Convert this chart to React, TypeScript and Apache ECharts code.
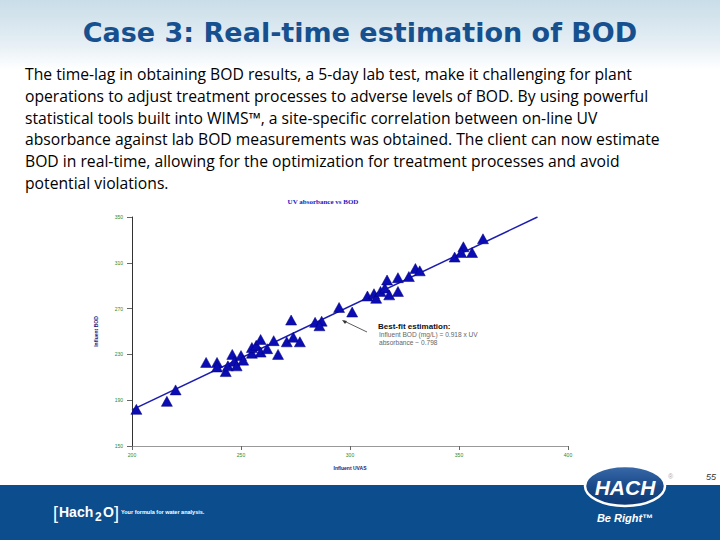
import React, { useEffect, useRef } from "react";
import * as echarts from "echarts";

const uvAbsorbance = [202, 216, 220, 234, 239, 239, 243, 246, 244, 247, 248, 250, 251, 255, 255, 257, 259, 259, 262, 265, 267, 271, 273, 274, 277, 284, 287, 286, 295, 301, 308, 311, 312, 314, 316, 318, 322, 317, 322, 327, 330, 332, 348, 352, 351, 356, 361];
const labBOD = [182, 189, 199, 223, 223, 219, 215, 230, 220, 224, 220, 229, 225, 231, 236, 238, 243, 232, 235, 242, 230, 241, 260, 245, 241, 258, 259, 255, 271, 267, 281, 283, 279, 285, 288, 282, 285, 295, 297, 298, 305, 303, 315, 324, 319, 319, 331];
const fitX = [200, 386];
const fitY = [181.5, 350];

const paragraph = [
  "The time-lag in obtaining BOD results, a 5-day lab test, make it challenging for plant",
  "operations to adjust treatment processes to adverse levels of BOD. By using powerful",
  "statistical tools built into WIMS\u2122, a site-specific correlation between on-line UV",
  "absorbance against lab BOD measurements was obtained. The client can now estimate",
  "BOD in real-time, allowing for the optimization for treatment processes and avoid",
  "potential violations.",
];

export default function App() {
  const ref = useRef<HTMLDivElement>(null);
  useEffect(() => {
    if (!ref.current) return;
    const chart = echarts.init(ref.current, undefined, { renderer: "svg" });
    const points = uvAbsorbance.map((x, i) => [x, labBOD[i]]);
    const fit = fitX.map((x, i) => [x, fitY[i]]);
    const textLines = paragraph.map((t, i) => ({
      type: "text",
      x: 25,
      y: 74 + i * 21.8,
      style: { text: t, font: "15.7px 'Open Sans'", fill: "#000", textVerticalAlign: "middle" },
    }));
    chart.setOption({
      animation: false,
      backgroundColor: "#ffffff",
      grid: { left: 132, right: 152, top: 217, bottom: 94 },
      xAxis: {
        type: "value",
        min: 200,
        max: 400,
        interval: 50,
        name: "Influent UVAS",
        nameLocation: "middle",
        nameGap: 19,
        nameTextStyle: { fontSize: 5, color: "#1a1a7a", fontWeight: "bold" },
        axisLine: { lineStyle: { color: "#999", width: 1 } },
        axisTick: { show: true, length: 4, inside: false, lineStyle: { color: "#666" } },
        axisLabel: { fontSize: 5, color: "#2a8a2a", margin: 6 },
        splitLine: { show: false },
      },
      yAxis: {
        type: "value",
        min: 150,
        max: 350,
        interval: 40,
        name: "Influent BOD",
        nameLocation: "middle",
        nameGap: 34,
        nameRotate: 90,
        nameTextStyle: { fontSize: 5, color: "#1a1a7a", fontWeight: "bold" },
        axisLine: { show: true, lineStyle: { color: "#333", width: 1 } },
        axisTick: { show: true, length: 5, lineStyle: { color: "#666" } },
        axisLabel: { fontSize: 5, color: "#2a8a2a", margin: 9 },
        splitLine: { show: false },
      },
      series: [
        {
          type: "line",
          data: fit,
          symbol: "none",
          lineStyle: { color: "#1c1cb0", width: 1.5 },
          z: 2,
        },
        {
          type: "scatter",
          data: points,
          symbol: "triangle",
          symbolSize: [11, 10],
          itemStyle: { color: "#0c0cb4", borderColor: "#00007a", borderWidth: 0.5, opacity: 1 },
          z: 3,
        },
      ],
      graphic: [
        {
          type: "rect",
          z: -10,
          shape: { x: 0, y: 0, width: 720, height: 70 },
          style: {
            fill: new echarts.graphic.LinearGradient(0, 0, 0, 1, [
              { offset: 0, color: "#c9dde8" },
              { offset: 0.6, color: "#e4eef4" },
              { offset: 1, color: "#ffffff" },
            ]),
          },
        },
        {
          type: "text",
          x: 360,
          y: 32,
          style: {
            text: "Case 3: Real-time estimation of BOD",
            font: "bold 27px 'DejaVu Sans'",
            fill: "#17508e",
            textAlign: "center",
            textVerticalAlign: "middle",
          },
        },
        ...textLines,
        {
          type: "text",
          x: 323,
          y: 202,
          style: {
            text: "UV absorbance vs BOD",
            font: "bold 7px 'Liberation Serif', serif",
            fill: "#2020c0",
            textAlign: "center",
            textVerticalAlign: "middle",
          },
        },
        {
          type: "line",
          shape: { x1: 367, y1: 332, x2: 344, y2: 321 },
          style: { stroke: "#333", lineWidth: 0.8 },
        },
        {
          type: "polygon",
          shape: { points: [[342, 320], [347, 321], [345, 324]] },
          style: { fill: "#333" },
        },
        {
          type: "text",
          x: 378,
          y: 326,
          style: { text: "Best-fit estimation:", font: "bold 8px 'Liberation Sans'", fill: "#111", textVerticalAlign: "middle" },
        },
        {
          type: "text",
          x: 379,
          y: 334,
          style: { text: "Influent BOD (mg/L) = 0.918 x UV", font: "6.6px 'Liberation Sans'", fill: "#666", textVerticalAlign: "middle" },
        },
        {
          type: "text",
          x: 379,
          y: 342,
          style: { text: "absorbance \u2212 0.798", font: "6.6px 'Liberation Sans'", fill: "#666", textVerticalAlign: "middle" },
        },
        {
          type: "rect",
          shape: { x: 0, y: 485, width: 720, height: 55 },
          style: { fill: "#0c4e8d" },
        },
        {
          type: "text",
          x: 53,
          y: 513,
          style: { text: "[", font: "18px 'Liberation Sans'", fill: "#ffffff", textVerticalAlign: "middle" },
        },
        {
          type: "text",
          x: 59,
          y: 512,
          style: { text: "Hach", font: "bold 14px 'Liberation Sans'", fill: "#ffffff", textVerticalAlign: "middle" },
        },
        {
          type: "text",
          x: 95,
          y: 517,
          style: { text: "2", font: "bold 12px 'Liberation Sans'", fill: "#ffffff", textVerticalAlign: "middle" },
        },
        {
          type: "text",
          x: 103,
          y: 512,
          style: { text: "O", font: "bold 14px 'Liberation Sans'", fill: "#ffffff", textVerticalAlign: "middle" },
        },
        {
          type: "text",
          x: 114,
          y: 513,
          style: { text: "]", font: "18px 'Liberation Sans'", fill: "#ffffff", textVerticalAlign: "middle" },
        },
        {
          type: "text",
          x: 121,
          y: 512,
          style: { text: "Your formula for water analysis.", font: "bold 5.5px 'Liberation Sans'", fill: "#ffffff", textVerticalAlign: "middle" },
        },
        {
          type: "ellipse",
          shape: { cx: 625, cy: 486, rx: 40, ry: 20 },
          style: {
            fill: new echarts.graphic.LinearGradient(0, 0, 0, 1, [
              { offset: 0, color: "#3a6aa8" },
              { offset: 0.5, color: "#1a4a8a" },
              { offset: 1, color: "#0e3a74" },
            ]),
            stroke: "#ffffff",
            lineWidth: 2.5,
          },
        },
        {
          type: "text",
          x: 625,
          y: 487,
          style: {
            text: "HACH",
            font: "italic bold 21px 'Liberation Sans'",
            fill: "#ffffff",
            textAlign: "center",
            textVerticalAlign: "middle",
          },
        },
        {
          type: "text",
          x: 668,
          y: 476,
          style: { text: "\u00ae", font: "7px 'Liberation Sans'", fill: "#aaa", textVerticalAlign: "middle" },
        },
        {
          type: "text",
          x: 625,
          y: 518,
          style: {
            text: "Be Right\u2122",
            font: "italic bold 11px 'Liberation Sans'",
            fill: "#ffffff",
            textAlign: "center",
            textVerticalAlign: "middle",
          },
        },
        {
          type: "text",
          x: 716,
          y: 477,
          style: {
            text: "55",
            font: "italic 9px 'Liberation Sans'",
            fill: "#333",
            textAlign: "right",
            textVerticalAlign: "middle",
          },
        },
      ],
    });
    return () => chart.dispose();
  }, []);
  return <div ref={ref} style={{ position: "fixed", left: 0, top: 0, width: 720, height: 540 }} />;
}
